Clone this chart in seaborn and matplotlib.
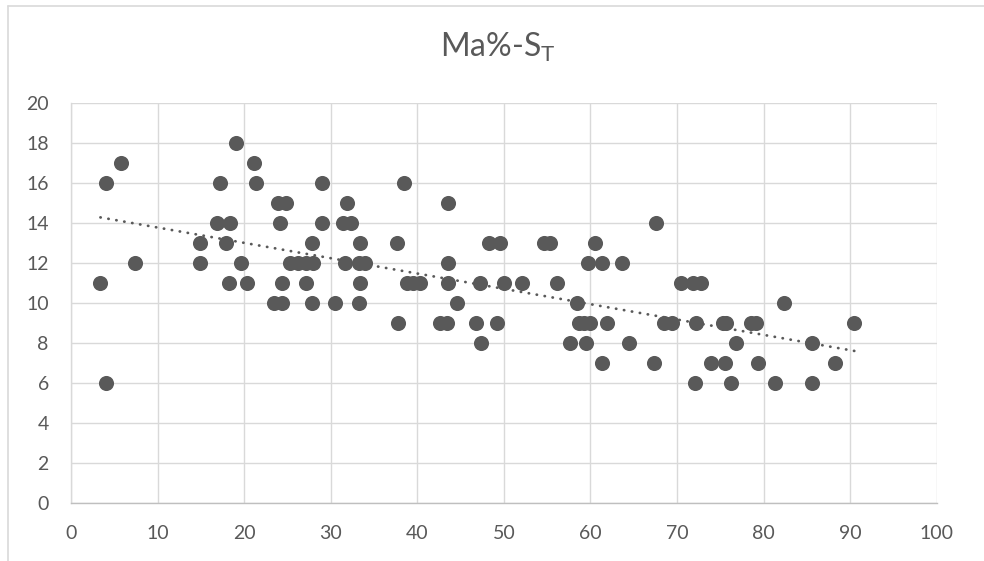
import numpy as np
import pandas as pd
import seaborn as sns
import matplotlib
matplotlib.use("Agg")
import matplotlib.pyplot as plt
from matplotlib.lines import Line2D

# ---- data ----
ma_pct = [
    19.1,
    5.8, 21.1,
    4.0, 17.2, 21.4, 29.0, 38.5,
    23.9, 24.8, 31.9, 43.6,
    16.9, 18.4, 24.1, 29.0, 31.4, 32.4, 67.6,
    14.9, 17.9, 27.8, 33.4, 37.6, 48.3, 49.5, 54.6, 55.3, 60.5,
    7.4, 14.9, 19.6, 25.3, 26.2, 27.1, 27.9, 31.6, 33.3, 34.0, 43.5, 59.7, 61.3, 63.7,
    3.4, 18.3, 20.3, 24.4, 27.2, 33.4, 38.8, 39.5, 40.3, 43.5, 47.3, 50.0, 52.1, 56.1, 70.5, 71.8, 72.8,
    23.4, 24.4, 27.8, 30.5, 33.3, 44.6, 58.5, 82.4,
    37.8, 42.6, 43.4, 46.8, 49.2, 58.7, 59.3, 59.9, 61.9, 68.5, 69.4, 72.2, 75.3, 75.7, 78.5, 79.1, 90.5,
    47.4, 57.6, 59.5, 64.4, 76.8, 85.6,
    61.3, 67.3, 73.9, 75.5, 79.3, 88.2,
    4.0, 72.1, 76.2, 81.3, 85.6,
]
s_t = (
    [18] * 1 + [17] * 2 + [16] * 5 + [15] * 4 + [14] * 7 + [13] * 10 + [12] * 14
    + [11] * 17 + [10] * 8 + [9] * 17 + [8] * 6 + [7] * 6 + [6] * 5
)
x_ticks = [0, 10, 20, 30, 40, 50, 60, 70, 80, 90, 100]
y_ticks = [0, 2, 4, 6, 8, 10, 12, 14, 16, 18, 20]
title_text = r"Ma%-S$_\mathregular{T}$"

df = pd.DataFrame({"Ma%": ma_pct, "S_T": s_t})

# ---- style ----
sns.set_style("white")
plt.rcParams["font.family"] = ["Lato", "DejaVu Sans"]
plt.rcParams["mathtext.fontset"] = "custom"
plt.rcParams["mathtext.rm"] = "Lato"
plt.rcParams["mathtext.it"] = "Lato:italic"
plt.rcParams["mathtext.bf"] = "Lato:bold"

DARK = "#595959"
GRID = "#D9D9D9"

fig = plt.figure(figsize=(9.84, 5.61), dpi=100)
ax = fig.add_axes([71 / 984, 1 - 502.7 / 561, (936.7 - 71) / 984, (502.7 - 103.3) / 561])

sns.scatterplot(data=df, x="Ma%", y="S_T", ax=ax, color=DARK, s=118,
                linewidth=0, alpha=1, zorder=3, legend=False)
sns.regplot(data=df, x="Ma%", y="S_T", ax=ax, scatter=False, ci=None, truncate=True,
            line_kws=dict(color=DARK, lw=2.0, linestyle=(0, (0.1, 2.8)),
                          dash_capstyle="round", zorder=4))

ax.set_xlim(0, 100)
ax.set_ylim(0, 20)
ax.set_xticks(x_ticks)
ax.set_yticks(y_ticks)
ax.set_xlabel("")
ax.set_ylabel("")
ax.grid(True, color=GRID, linewidth=1.0)
ax.set_axisbelow(True)
for side in ["top", "right"]:
    ax.spines[side].set_visible(False)
ax.spines["left"].set_color(GRID)
ax.spines["bottom"].set_color("#BFBFBF")
ax.spines["left"].set_linewidth(1.0)
ax.spines["bottom"].set_linewidth(1.0)
ax.tick_params(axis="both", length=0, labelsize=14, labelcolor=DARK)
ax.tick_params(axis="x", pad=16)
ax.tick_params(axis="y", pad=16)

fig.text(498 / 984, 1 - 47 / 561, title_text, ha="center", va="center",
         fontsize=23, color=DARK)

# chart-area border (only top and left visible in the crop)
fig.add_artist(Line2D([7.5 / 984, 7.5 / 984], [0, 1 - 5.5 / 561],
                      transform=fig.transFigure, color=GRID, lw=1.2))
fig.add_artist(Line2D([7.5 / 984, 1], [1 - 5.5 / 561, 1 - 5.5 / 561],
                      transform=fig.transFigure, color=GRID, lw=1.2))

fig.savefig("out.png", dpi=100, facecolor="white")
